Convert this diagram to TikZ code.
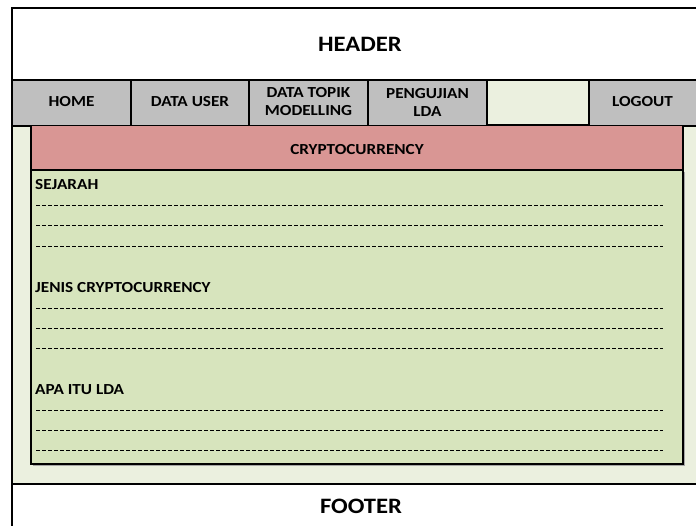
\documentclass[tikz,border=0pt]{standalone}
\usepackage{fontspec}
\setmainfont{Carlito}[FakeStretch=1.12]
\definecolor{navgray}{HTML}{BFBFBF}
\definecolor{bodybg}{HTML}{EBF0DF}
\definecolor{banred}{HTML}{D99694}
\definecolor{contgreen}{HTML}{D7E4BD}
\tikzset{
  frame/.style={draw=black,line width=1.5pt},
  cell/.style={draw=black,line width=1.1pt},
  big/.style={font=\bfseries\fontsize{16.5}{20}\selectfont},
  small/.style={font=\bfseries\fontsize{11.5}{13.5}\selectfont,align=center},
  title/.style={font=\bfseries\fontsize{11.5}{13.5}\selectfont,anchor=west},
  dashline/.style={draw=black,line width=0.6pt,dash pattern=on 3pt off 1.5pt}
}
\begin{document}
\begin{tikzpicture}[x=0.75pt,y=-0.75pt]
\useasboundingbox (0,0) rectangle (696,525);
% body background
\fill[bodybg] (12,126) rectangle (700,484);
% header
\fill[white] (12,8) rectangle (700,80);
\node[big] (header) at (360,44) {HEADER};
% nav bar
\fill[navgray] (12,80) rectangle (487,126);
\fill[bodybg] (487,80) rectangle (589,125);
\fill[navgray] (589,80) rectangle (700,126);
\draw[cell] (12,80) -- (700,80);
\draw[cell] (12,126) -- (487,126);
\draw[cell] (589,126) -- (700,126);
\draw[cell] (131,80) -- (131,126);
\draw[cell] (249,80) -- (249,126);
\draw[cell] (368,80) -- (368,126);
\draw[cell] (487,80) -- (487,126);
\draw[cell] (589,80) -- (589,126);
\draw[cell] (487,125) -- (589,125);
\node[small] (home) at (71.5,102) {HOME};
\node[small] (datauser) at (190,102) {DATA USER};
\node[small] (topik) at (308.5,102) {DATA TOPIK\\MODELLING};
\node[small] (uji) at (427.5,102) {PENGUJIAN\\LDA};
\node[small] (logout) at (642.5,102) {LOGOUT};
% banner
\fill[banred] (31,126) rectangle (683,170);
\draw[cell] (31,126) -- (31,170);
\draw[cell] (683,126) -- (683,170);
\node[small] (banner) at (357,150) {CRYPTOCURRENCY};
% content
\fill[gray!70] (33,172) rectangle (685,466);
\fill[contgreen] (31,170) rectangle (683,464);
\draw[cell] (31,170) rectangle (683,464);
\draw[cell,line width=1.5pt] (31,170) -- (683,170);
\node[title] (sejarah) at (30.5,185) {SEJARAH};
\node[title] (jenis) at (30.5,288) {JENIS CRYPTOCURRENCY};
\node[title] (apa) at (30.5,390) {APA ITU LDA};
\foreach \y in {205,225,246,308,328,348,410,430,450}
  \draw[dashline] (36,\y) -- (663,\y);
% footer
\fill[white] (12,484) rectangle (700,530);
\draw[frame] (12,484) -- (700,484);
\node[big] (footer) at (361,506) {FOOTER};
% outer frame
\draw[frame] (12,540) -- (12,8) -- (710,8);
\end{tikzpicture}
\end{document}
